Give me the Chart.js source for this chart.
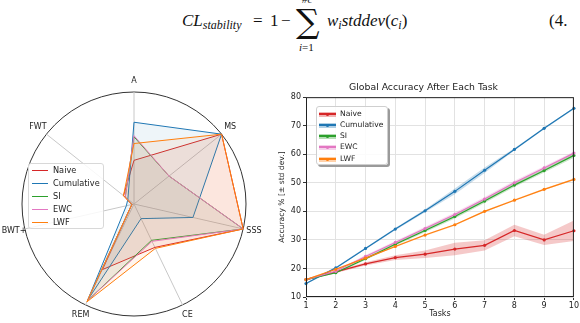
<!DOCTYPE html>
<html>
<head>
<meta charset="utf-8">
<script src="https://cdn.jsdelivr.net/npm/chart.js@4.4.1/dist/chart.umd.min.js"></script>
<style>
  body { margin: 0; width: 580px; height: 323px; overflow: hidden; background: #fff; position: relative; font-family: "DejaVu Sans", sans-serif; }
  .abs { position: absolute; }
  .eq { font-family: "Liberation Serif", "DejaVu Serif", serif; font-size: 17px; line-height: 17px; color: #111; white-space: nowrap; }
  .eq sub { font-size: 12px; vertical-align: -3px; }
  .legend { position: absolute; background: rgba(255,255,255,0.85); border: 1px solid #d8d8d8; border-radius: 3px; box-sizing: border-box; }
  .legend .row { position: absolute; left: 0; white-space: nowrap; color: #222; }
  .legend .sw { position: absolute; }
</style>
</head>
<body>
<!-- equation fragment above the charts -->
<div class="abs eq" style="left:182px; top:12px;"><i>CL</i><sub><i>stability</i></sub></div>
<div class="abs eq" style="left:253px; top:12px;">=</div>
<div class="abs eq" style="left:270px; top:12px;">1</div>
<div class="abs eq" style="left:281px; top:12px;">&minus;</div>
<div class="abs eq" style="left:296px; top:5px; font-family:'DejaVu Serif',serif; font-size:33px; line-height:33px;">&sum;</div>
<div class="abs eq" style="left:302px; top:-6px; font-size:11px; line-height:11px;"><i>#c</i></div>
<div class="abs eq" style="left:299px; top:42px; font-size:11px; line-height:11px;"><i>i</i>=1</div>
<div class="abs eq" style="left:327px; top:12px;"><i>w</i><sub><i>i</i></sub><i>stddev</i>(<i>c</i><sub><i>i</i></sub>)</div>
<div class="abs eq" style="left:549px; top:12px;">(4.</div>

<div class="abs" style="left:0px; top:70px; width:270px; height:253px;"><canvas id="radar"></canvas></div>
<div class="abs" style="left:272px; top:70px; width:308px; height:253px;"><canvas id="line"></canvas></div>

<div id="radar-legend" class="legend" style="left:28px; top:163px; width:76px; height:66px;"></div>
<div id="line-legend" class="legend" style="left:316px; top:106px; width:72px; height:59px; border-color:#cfcfcf; box-shadow: 2px 2px 0 #9a9a9a;"></div>

<script>
// radar values (0..1), axes go clockwise from the top
const radarLabels = ['A', 'MS', 'SSS', 'CE', 'REM', 'BWT+', 'FWT'];
const radarNaive = [0.39, 1.0, 1.0, 0.43, 0.65, 0.02, 0.12];
const radarCumulative = [0.73, 1.0, 0.54, 0.145, 0.95, 0.07, 0.07];
const radarSI = [0.60, 0.40, 1.0, 0.36, 0.96, 0.02, 0.10];
const radarEWC = [0.61, 0.40, 1.0, 0.37, 0.96, 0.02, 0.10];
const radarLWF = [0.54, 1.0, 1.0, 0.44, 0.97, 0.02, 0.12];

// accuracy after each task (mean and std)
const tasks = ['1', '2', '3', '4', '5', '6', '7', '8', '9', '10'];
const naiveAcc = [16.1, 18.8, 21.6, 23.8, 25.0, 26.8, 28.1, 33.3, 30.0, 33.2];
const naiveStd = [0.3, 0.4, 0.6, 0.8, 1.3, 2.2, 1.8, 2.0, 1.8, 3.6];
const cumulativeAcc = [14.7, 20.2, 27.0, 33.8, 40.2, 47.0, 54.4, 61.7, 69.1, 76.1];
const cumulativeStd = [0.2, 0.3, 0.3, 0.4, 0.5, 1.0, 1.0, 0.4, 0.3, 0.3];
const siAcc = [16.1, 18.5, 23.4, 28.5, 33.3, 38.2, 43.6, 49.2, 54.3, 59.6];
const siStd = [0.2, 0.3, 0.4, 0.5, 0.6, 0.7, 0.7, 0.7, 0.7, 0.8];
const ewcAcc = [16.1, 19.0, 24.2, 29.1, 34.0, 38.9, 44.3, 50.0, 55.2, 60.4];
const ewcStd = [0.2, 0.3, 0.5, 0.5, 0.6, 0.7, 0.7, 0.7, 0.6, 0.6];
const lwfAcc = [16.1, 19.7, 23.6, 27.7, 31.7, 35.3, 40.0, 43.9, 47.7, 51.2];
const lwfStd = [0.2, 0.3, 0.3, 0.3, 0.3, 0.3, 0.3, 0.3, 0.3, 0.3];

const seriesNames = ['Naive', 'Cumulative', 'SI', 'EWC', 'LWF'];
const seriesRgb = ['214,39,40', '31,119,180', '44,160,44', '227,119,194', '255,127,14'];

const radarData = [radarNaive, radarCumulative, radarSI, radarEWC, radarLWF];
const accData = [naiveAcc, cumulativeAcc, siAcc, ewcAcc, lwfAcc];
const stdData = [naiveStd, cumulativeStd, siStd, ewcStd, lwfStd];

Chart.defaults.font.family = '"DejaVu Sans", sans-serif';
Chart.defaults.color = '#222';
Chart.defaults.animation = false;

// axis names drawn centered at a fixed radius (like matplotlib polar)
const radarLabelPlugin = {
  id: 'radarLabels',
  afterDraw(chart) {
    const scale = chart.scales.r;
    const ctx = chart.ctx;
    ctx.save();
    ctx.font = '8px "DejaVu Sans"';
    ctx.fillStyle = '#222';
    ctx.textAlign = 'center';
    ctx.textBaseline = 'middle';
    radarLabels.forEach((lab, i) => {
      const p = scale.getPointPosition(i, scale.drawingArea + 11);
      ctx.fillText(lab, p.x, p.y);
    });
    ctx.restore();
  }
};

new Chart(document.getElementById('radar'), {
  type: 'radar',
  data: {
    labels: radarLabels,
    datasets: seriesNames.map((name, i) => ({
      label: name,
      data: radarData[i],
      order: seriesNames.length - i,
      borderColor: 'rgb(' + seriesRgb[i] + ')',
      backgroundColor: 'rgba(' + seriesRgb[i] + ',0.075)',
      borderWidth: 1,
      pointRadius: 0,
      fill: true
    }))
  },
  options: {
    responsive: true,
    maintainAspectRatio: false,
    layout: { padding: { left: 22, right: 24, top: 22, bottom: 7 } },
    plugins: { legend: { display: false }, tooltip: { enabled: false } },
    scales: {
      r: {
        min: 0, max: 1,
        ticks: { display: false, stepSize: 1 },
        grid: { circular: true, color: '#333', lineWidth: 1 },
        angleLines: { color: '#c8c8c8', lineWidth: 1 },
        pointLabels: { display: false }
      }
    }
  },
  plugins: [radarLabelPlugin]
});

// frame around the plot area
const boxPlugin = {
  id: 'box',
  afterDatasetsDraw(chart) {
    const a = chart.chartArea;
    const ctx = chart.ctx;
    ctx.save();
    ctx.strokeStyle = '#222';
    ctx.lineWidth = 1;
    ctx.strokeRect(a.left + 0.5, a.top + 0.5, a.right - a.left - 1, a.bottom - a.top - 1);
    ctx.restore();
  }
};

const lineSets = [];
seriesNames.forEach((name, i) => {
  lineSets.push({
    label: name,
    data: accData[i],
    order: seriesNames.length - i,
    borderColor: 'rgb(' + seriesRgb[i] + ')',
    backgroundColor: 'rgb(' + seriesRgb[i] + ')',
    borderWidth: 1.2,
    pointRadius: 1.6,
    pointBorderWidth: 0,
    fill: false
  });
});
// std bands: lower bound then upper bound filled to it
seriesNames.forEach((name, i) => {
  lineSets.push({
    label: name + ' low',
    data: accData[i].map((v, k) => v - stdData[i][k]),
    order: 10,
    borderWidth: 0,
    pointRadius: 0,
    fill: false
  });
  lineSets.push({
    label: name + ' high',
    data: accData[i].map((v, k) => v + stdData[i][k]),
    order: 10,
    borderWidth: 0,
    pointRadius: 0,
    backgroundColor: 'rgba(' + seriesRgb[i] + ',0.25)',
    fill: '-1'
  });
});

new Chart(document.getElementById('line'), {
  type: 'line',
  data: { labels: tasks, datasets: lineSets },
  options: {
    responsive: true,
    maintainAspectRatio: false,
    layout: { padding: { left: 0, right: 5, top: 0, bottom: 0 } },
    plugins: {
      legend: { display: false },
      tooltip: { enabled: false },
      title: {
        display: true,
        text: 'Global Accuracy After Each Task',
        font: { size: 9.3, weight: 'normal' },
        color: '#222',
        padding: { top: 12, bottom: 4 }
      }
    },
    scales: {
      x: {
        grid: { color: '#e2e2e2', tickColor: '#333', tickLength: 3 },
        border: { display: false },
        ticks: { font: { size: 8 }, color: '#222', padding: 1, maxRotation: 0 },
        title: { display: true, text: 'Tasks', font: { size: 8 }, color: '#222', padding: { top: 2, bottom: 4 } },
        afterFit(s) { s.height = 26; }
      },
      y: {
        min: 10, max: 80,
        grid: { color: '#e2e2e2', tickColor: '#333', tickLength: 3 },
        border: { display: false },
        ticks: { stepSize: 10, font: { size: 8 }, color: '#222', padding: 2 },
        title: { display: true, text: 'Accuracy % [\u00b1 std dev.]', font: { size: 7.6 }, color: '#222', padding: { top: 5, bottom: 2 } },
        afterFit(s) { s.width = 34; }
      }
    }
  },
  plugins: [boxPlugin]
});

// legends
function buildLegend(id, rowTop, rowGap, fontSize, band) {
  const box = document.getElementById(id);
  seriesNames.forEach((name, i) => {
    const y = Math.round(rowTop + i * rowGap);
    const row = document.createElement('div');
    row.className = 'row';
    row.style.top = (y - fontSize * 0.6) + 'px';
    row.style.left = band ? '23px' : '24px';
    row.style.fontSize = fontSize + 'px';
    row.style.lineHeight = (fontSize * 1.2) + 'px';
    row.textContent = name;
    box.appendChild(row);
    if (band) {
      const b = document.createElement('div');
      b.className = 'sw';
      b.style.cssText = 'left:2px; width:17px; height:5px; top:' + (y - 2.5) + 'px; background:rgba(' + seriesRgb[i] + ',0.35);';
      box.appendChild(b);
    }
    const l = document.createElement('div');
    l.className = 'sw';
    l.style.cssText = 'left:' + (band ? 2 : 3) + 'px; width:' + (band ? 17 : 16) + 'px; height:' + (band ? 1.5 : 1) + 'px; top:' + (y - 1) + 'px; background:rgb(' + seriesRgb[i] + ');';
    box.appendChild(l);
    if (band) {
      const d = document.createElement('div');
      d.className = 'sw';
      d.style.cssText = 'left:9px; width:3px; height:3px; border-radius:50%; top:' + (y - 1.5) + 'px; background:rgb(' + seriesRgb[i] + ');';
      box.appendChild(d);
    }
  });
}
buildLegend('radar-legend', 7, 12.9, 8.2, false);
buildLegend('line-legend', 6.5, 11.3, 7.6, true);
</script>
</body>
</html>
